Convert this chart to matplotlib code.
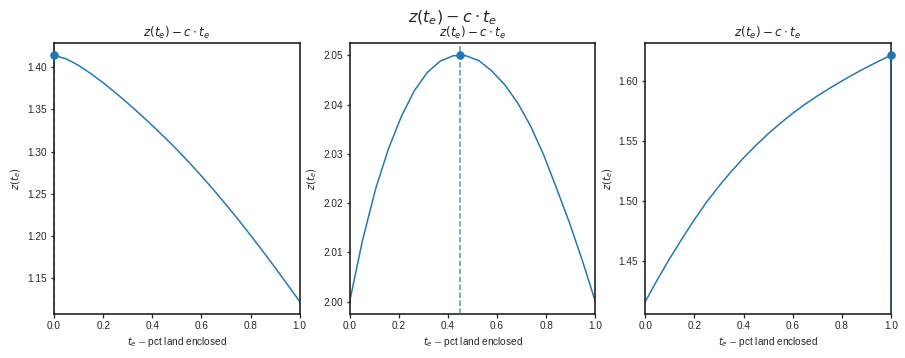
import numpy as np
import matplotlib
matplotlib.use("Agg")
import matplotlib.pyplot as plt
import seaborn as sns

sns.set_style("ticks")
plt.rcParams['font.family'] = ['Liberation Sans', 'DejaVu Sans']
plt.rcParams['axes.linewidth'] = 1.6
plt.rcParams['axes.edgecolor'] = '#1a1a1a'

# t_e grid and curves
t_fine = [0.00, 0.05, 0.10, 0.15, 0.20, 0.25, 0.30, 0.35, 0.40, 0.45, 0.50,
          0.55, 0.60, 0.65, 0.70, 0.75, 0.80, 0.85, 0.90, 0.95, 1.00]
z_left = [1.4140, 1.40975, 1.4020, 1.39225, 1.3815, 1.36975, 1.3573, 1.34435,
          1.3309, 1.31695, 1.3024, 1.28715, 1.2712, 1.25455, 1.2373, 1.21945,
          1.2010, 1.18205, 1.1626, 1.14275, 1.1225]
z_right = [1.4160, 1.4345, 1.4520, 1.4685, 1.4842, 1.4990, 1.5121, 1.5243,
           1.5356, 1.5460, 1.5556, 1.5645, 1.5727, 1.5802, 1.5871, 1.5935,
           1.5996, 1.6054, 1.6109, 1.6161, 1.6210]

t_mid = np.linspace(0, 1, 20)
z_mid = [2.0000, 2.0125, 2.0228, 2.0310, 2.0376, 2.0428, 2.0465, 2.0488,
         2.0499, 2.0499, 2.0489, 2.0468, 2.0440, 2.0403, 2.0356, 2.0298,
         2.0230, 2.0160, 2.0083, 2.0000]

# optimum of each panel
t_opt = [0.0, 0.45, 1.0]
z_opt = [1.4140, 2.0500, 1.6210]

curves = [(t_fine, z_left), (t_mid, z_mid), (t_fine, z_right)]

title = r'$z(t_e) - c \cdot t_e$'

fig, axes = plt.subplots(1, 3, figsize=(905 / 72, 358 / 72), dpi=72)
fig.subplots_adjust(left=0.0597, right=0.9845, bottom=0.123, top=0.880, wspace=0.203)

for ax, (t, z), tx, zx in zip(axes, curves, t_opt, z_opt):
    ax.plot(t, z, color='C0', lw=1.5)
    ax.plot(tx, zx, 'o', color='C0', markersize=7.5, clip_on=False, zorder=4)
    # the left spine hides the line at t=0, the right one does not
    ax.axvline(tx, linestyle='--', color='C0', lw=1.5, alpha=0.8,
               zorder=3 if tx > 0 else 2)
    ax.set_xlim(0, 1)
    ax.set_title(title, fontsize=12)
    ax.set_xlabel(r'$t_e$ -- pct land enclosed', fontsize=10)
    ax.set_ylabel(r'$z(t_e)$', fontsize=10)
    ax.tick_params(labelsize=10, width=1.3)

fig.suptitle(title, fontsize=16, y=0.975)

plt.savefig("out.png", dpi=72)
